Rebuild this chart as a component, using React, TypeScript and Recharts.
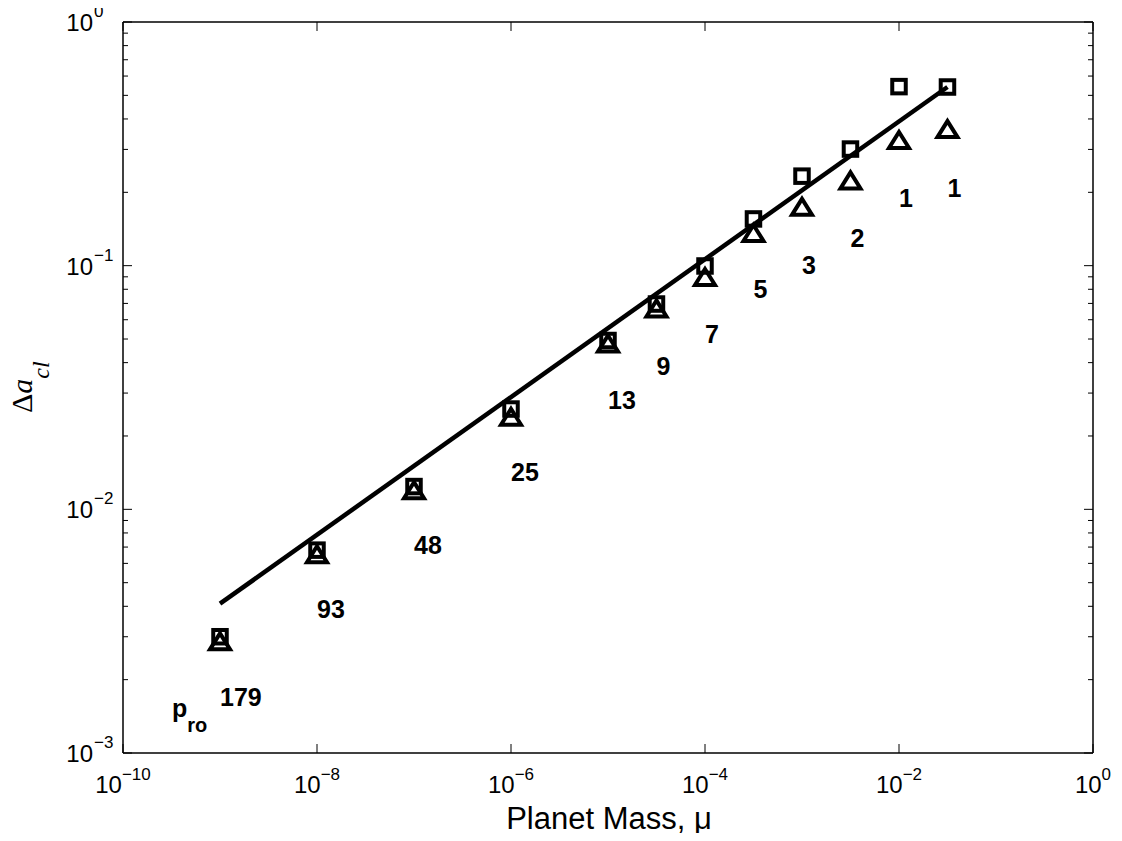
import React from 'react';
import { ScatterChart, Scatter, XAxis, YAxis } from 'recharts';

// ---- data ----
const masses = [1e-9, 1e-8, 1e-7, 1e-6, 1e-5, 3.16e-5, 1e-4, 3.16e-4, 1e-3, 3.16e-3, 1e-2, 3.16e-2];
const squareValues = [0.003, 0.0068, 0.0124, 0.0258, 0.0493, 0.0696, 0.0997, 0.1555, 0.233, 0.301, 0.543, 0.541];
const triangleValues = [0.0029, 0.0066, 0.0121, 0.0242, 0.0484, 0.0674, 0.0907, 0.1375, 0.176, 0.226, 0.331, 0.367];
const proLabels = ['179', '93', '48', '25', '13', '9', '7', '5', '3', '2', '1', '1'];
const proLabelValues = [0.00156, 0.00358, 0.00656, 0.01308, 0.02582, 0.0356, 0.0482, 0.0737, 0.0924, 0.1193, 0.1741, 0.1913];
const fitMasses = [1e-9, 3.16e-2];
const fitValues = [0.0041, 0.541];
const proTitleMass = 3.2e-10;
const proTitleValue = 0.00141;

const xTicks = [1e-10, 1e-8, 1e-6, 1e-4, 1e-2, 1];
const yMajorTicks = [1e-3, 1e-2, 1e-1, 1];
const yTicks = [
  1e-3, 2e-3, 3e-3, 4e-3, 5e-3, 6e-3, 7e-3, 8e-3, 9e-3,
  1e-2, 2e-2, 3e-2, 4e-2, 5e-2, 6e-2, 7e-2, 8e-2, 9e-2,
  1e-1, 2e-1, 3e-1, 4e-1, 5e-1, 6e-1, 7e-1, 8e-1, 9e-1,
  1,
];

const squareData = masses.map((x, i) => ({ x, y: squareValues[i] }));
const triangleData = masses.map((x, i) => ({ x, y: triangleValues[i] }));
const labelData = masses.map((x, i) => ({ x, y: proLabelValues[i], text: proLabels[i] }));
const fitData = fitMasses.map((x, i) => ({ x, y: fitValues[i] }));
const proTitleData = [{ x: proTitleMass, y: proTitleValue }];

const FONT = "'Liberation Sans', Arial, Helvetica, sans-serif";
const SERIF = "'Liberation Serif', 'Times New Roman', serif";

const expText = (v: number) => {
  const e = Math.round(Math.log10(v));
  return e < 0 ? '\u2212' + Math.abs(e) : String(e);
};

const BottomTick = ({ x, y, payload }: any) => (
  <g>
    <line x1={x} x2={x} y1={y} y2={y - 9} stroke="#000" strokeWidth={1} />
    <text x={x} y={y + 40} textAnchor="middle" fontFamily={FONT} fontSize={24} fill="#000">
      <tspan>10</tspan>
      <tspan dy={-13} fontSize={17}>{expText(payload.value)}</tspan>
    </text>
  </g>
);

const TopTick = ({ x, y }: any) => (
  <line x1={x} x2={x} y1={y} y2={y + 9} stroke="#000" strokeWidth={1} />
);

const LeftTick = ({ x, y, payload }: any) => {
  const major = yMajorTicks.includes(payload.value);
  return (
    <g>
      <line x1={x} x2={x + (major ? 9 : 5)} y1={y} y2={y} stroke="#000" strokeWidth={1} />
      {major && (
        <text x={x - 30} y={y + 9} textAnchor="end" fontFamily={FONT} fontSize={24} fill="#000">10</text>
      )}
      {major && (
        <text x={x - 29} y={y - 5} textAnchor="start" fontFamily={FONT} fontSize={17} fill="#000">
          {expText(payload.value)}
        </text>
      )}
    </g>
  );
};

const RightTick = ({ x, y, payload }: any) => {
  const major = yMajorTicks.includes(payload.value);
  return <line x1={x} x2={x - (major ? 9 : 5)} y1={y} y2={y} stroke="#000" strokeWidth={1} />;
};

const SquareMark = (p: any) => (
  <rect x={p.cx - 6.75} y={p.cy - 6.75} width={13.5} height={13.5} fill="none" stroke="#000" strokeWidth={4} />
);

const TriangleMark = (p: any) => (
  <path
    d={`M${p.cx},${p.cy - 7} L${p.cx + 10},${p.cy + 9} L${p.cx - 10},${p.cy + 9} Z`}
    fill="none"
    stroke="#000"
    strokeWidth={4}
    strokeLinejoin="miter"
  />
);

const ProLabel = (p: any) => (
  <text x={p.cx} y={p.cy} fontFamily={FONT} fontWeight="bold" fontSize={25} fill="#000">
    {p.payload.text}
  </text>
);

const ProTitle = (p: any) => (
  <text x={p.cx} y={p.cy} fontFamily={FONT} fontWeight="bold" fontSize={25} fill="#000">
    <tspan>p</tspan>
    <tspan fontSize={20} dy={15}>ro</tspan>
  </text>
);

const NoMark = () => <g />;

const XLabel = () => (
  <text x={609} y={829} textAnchor="middle" fontFamily={FONT} fontSize={31} fill="#000">
    Planet Mass, μ
  </text>
);

const YLabel = () => (
  <text transform="translate(32,413) rotate(-90)" fontFamily={SERIF} fontSize={30} fill="#000">
    <tspan>Δ</tspan>
    <tspan fontStyle="italic">a</tspan>
    <tspan fontStyle="italic" fontSize={24} dy={17}>cl</tspan>
  </text>
);

const axisLine = { stroke: '#000', strokeWidth: 1.5 };

export default function App() {
  return (
    <div style={{ width: 1122, height: 841, margin: -8, background: '#fff' }}>
      <ScatterChart width={1122} height={841} margin={{ top: 21, right: 28, bottom: 0, left: 0 }}>
        <XAxis
          type="number"
          dataKey="x"
          scale="log"
          domain={[1e-10, 1]}
          allowDataOverflow
          ticks={xTicks}
          interval={0}
          tickSize={0}
          tickMargin={0}
          tickLine={false}
          axisLine={axisLine}
          tick={(props: any) => <BottomTick {...props} />}
          height={88}
          label={<XLabel />}
        />
        <XAxis
          xAxisId="top"
          orientation="top"
          type="number"
          dataKey="x"
          scale="log"
          domain={[1e-10, 1]}
          allowDataOverflow
          ticks={xTicks}
          interval={0}
          tickSize={0}
          tickMargin={0}
          tickLine={false}
          axisLine={axisLine}
          tick={(props: any) => <TopTick {...props} />}
          height={1}
        />
        <YAxis
          type="number"
          dataKey="y"
          scale="log"
          domain={[1e-3, 1]}
          allowDataOverflow
          ticks={yTicks}
          interval={0}
          tickSize={0}
          tickMargin={0}
          tickLine={false}
          axisLine={axisLine}
          tick={(props: any) => <LeftTick {...props} />}
          width={123}
          label={<YLabel />}
        />
        <YAxis
          yAxisId="right"
          orientation="right"
          type="number"
          dataKey="y"
          scale="log"
          domain={[1e-3, 1]}
          allowDataOverflow
          ticks={yTicks}
          interval={0}
          tickSize={0}
          tickMargin={0}
          tickLine={false}
          axisLine={axisLine}
          tick={(props: any) => <RightTick {...props} />}
          width={1}
        />
        <Scatter
          data={fitData}
          line={{ stroke: '#000', strokeWidth: 4.5 }}
          shape={NoMark}
          isAnimationActive={false}
        />
        <Scatter data={triangleData} shape={TriangleMark} isAnimationActive={false} />
        <Scatter data={squareData} shape={SquareMark} isAnimationActive={false} />
        <Scatter data={labelData} shape={ProLabel} isAnimationActive={false} />
        <Scatter data={proTitleData} shape={ProTitle} isAnimationActive={false} />
      </ScatterChart>
    </div>
  );
}
